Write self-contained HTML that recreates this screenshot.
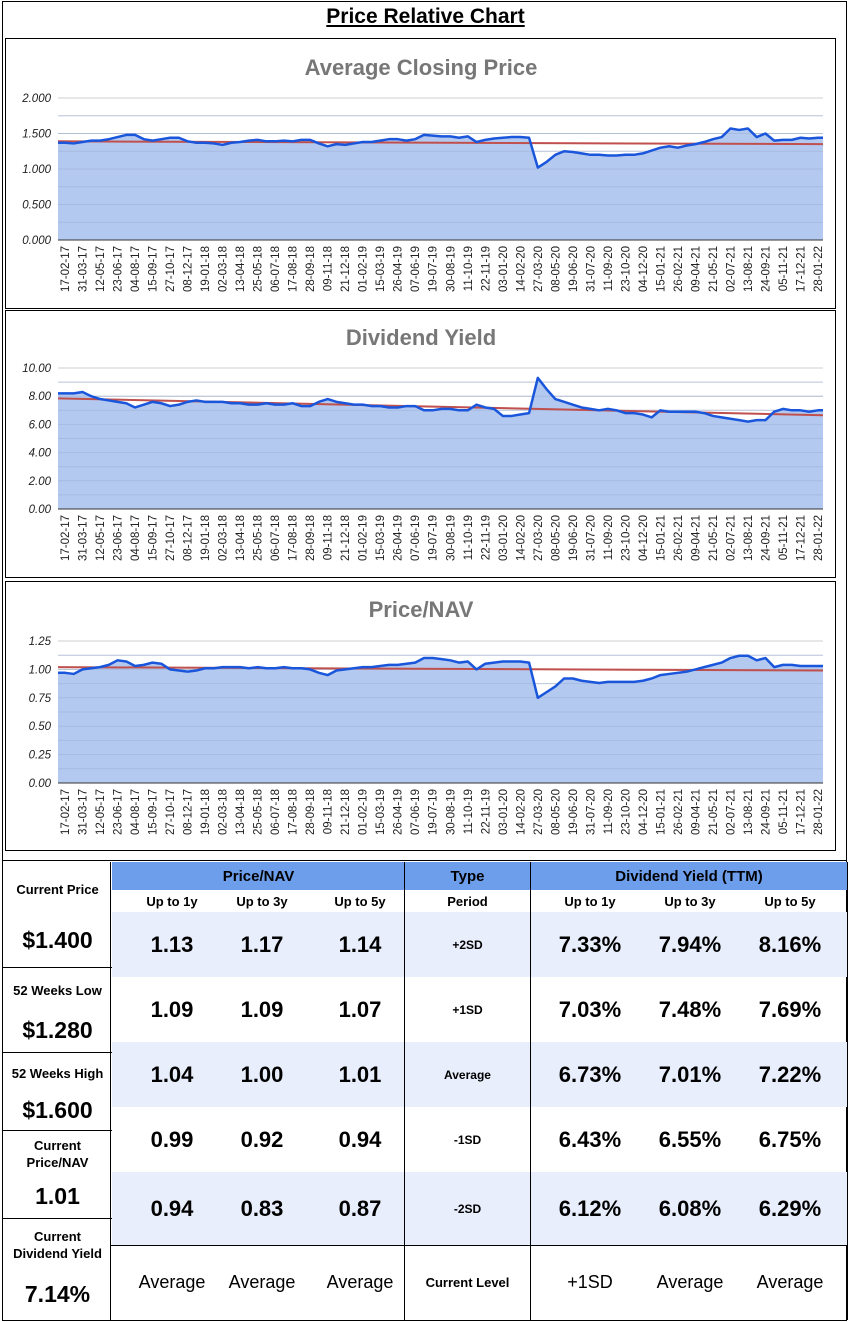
<!DOCTYPE html>
<html><head><meta charset="utf-8">
<style>
body{margin:0;width:851px;height:1322px;background:#fff;position:relative;overflow:hidden;font-family:"Liberation Sans",sans-serif;}
.abs{position:absolute;}
.frame{position:absolute;left:2px;top:1px;width:845px;height:1320px;border:1px solid #000;border-bottom:none;box-sizing:border-box;}
.title{position:absolute;left:0;width:851px;top:5px;text-align:center;font-family:"Liberation Sans Narrow","Liberation Sans",sans-serif;font-weight:bold;font-size:21px;text-decoration:underline;}
.cbox{position:absolute;left:5px;width:831px;border:1px solid #000;box-sizing:border-box;}
.cell{position:absolute;display:flex;align-items:center;justify-content:center;text-align:center;font-weight:bold;box-sizing:border-box;}
.hl{position:absolute;background:#000;}
</style></head><body>
<div class="frame"></div>
<div class="title">Price Relative Chart</div>
<div class="cbox" style="top:38px;height:271px"></div>
<div class="cbox" style="top:310px;height:268px"></div>
<div class="cbox" style="top:581px;height:270px"></div>
<svg id="charts" class="abs" style="left:0;top:0" width="851" height="860"></svg>

<div id="table"></div>

<script>
const dates=["17-02-17","31-03-17","12-05-17","23-06-17","04-08-17","15-09-17","27-10-17","08-12-17","19-01-18","02-03-18","13-04-18","25-05-18","06-07-18","17-08-18","28-09-18","09-11-18","21-12-18","01-02-19","15-03-19","26-04-19","07-06-19","19-07-19","30-08-19","11-10-19","22-11-19","03-01-20","14-02-20","27-03-20","08-05-20","19-06-20","31-07-20","11-09-20","23-10-20","04-12-20","15-01-21","26-02-21","09-04-21","21-05-21","02-07-21","13-08-21","24-09-21","05-11-21","17-12-21","28-01-22"];
const priceValues=[1.37,1.36,1.38,1.40,1.40,1.42,1.45,1.48,1.48,1.42,1.40,1.42,1.44,1.44,1.39,1.37,1.37,1.36,1.34,1.37,1.38,1.40,1.41,1.39,1.39,1.40,1.39,1.41,1.41,1.36,1.32,1.35,1.34,1.36,1.38,1.38,1.40,1.42,1.42,1.40,1.42,1.48,1.47,1.46,1.46,1.44,1.46,1.38,1.41,1.43,1.44,1.45,1.45,1.44,1.02,1.10,1.20,1.25,1.24,1.22,1.20,1.20,1.19,1.19,1.20,1.20,1.22,1.26,1.30,1.32,1.30,1.33,1.35,1.38,1.42,1.45,1.57,1.55,1.57,1.45,1.50,1.40,1.41,1.41,1.44,1.43,1.44];
const priceTrend=[1.39,1.35];
const yieldValues=[8.2,8.2,8.3,8.0,7.8,7.7,7.6,7.5,7.2,7.4,7.6,7.5,7.3,7.4,7.6,7.7,7.6,7.6,7.6,7.5,7.5,7.4,7.4,7.5,7.4,7.4,7.5,7.3,7.3,7.6,7.8,7.6,7.5,7.4,7.4,7.3,7.3,7.2,7.2,7.3,7.3,7.0,7.0,7.1,7.1,7.0,7.0,7.4,7.2,7.1,6.6,6.6,6.7,6.8,9.3,8.5,7.8,7.6,7.4,7.2,7.1,7.0,7.1,7.0,6.8,6.8,6.7,6.5,7.0,6.9,6.9,6.9,6.9,6.8,6.6,6.5,6.4,6.3,6.2,6.3,6.3,6.9,7.1,7.0,7.0,6.9,7.0];
const yieldTrend=[7.85,6.65];
const navValues=[0.97,0.96,1.00,1.01,1.02,1.04,1.08,1.07,1.03,1.04,1.06,1.05,1.00,0.99,0.98,0.99,1.01,1.01,1.02,1.02,1.02,1.01,1.02,1.01,1.01,1.02,1.01,1.01,1.00,0.97,0.95,0.99,1.00,1.01,1.02,1.02,1.03,1.04,1.04,1.05,1.06,1.10,1.10,1.09,1.08,1.06,1.07,1.00,1.05,1.06,1.07,1.07,1.07,1.06,0.75,0.80,0.85,0.92,0.92,0.90,0.89,0.88,0.89,0.89,0.89,0.89,0.90,0.92,0.95,0.96,0.97,0.98,1.00,1.02,1.04,1.06,1.10,1.12,1.12,1.08,1.10,1.02,1.04,1.04,1.03,1.03,1.03];
const navTrend=[1.02,0.99];
const priceTicks=["0.000","0.500","1.000","1.500","2.000"];
const yieldTicks=["0.00","2.00","4.00","6.00","8.00","10.00"];
const navTicks=["0.00","0.25","0.50","0.75","1.00","1.25"];

const svg=document.getElementById('charts');
const NS='http://www.w3.org/2000/svg';
function mk(tag,attrs,parent){const e=document.createElementNS(NS,tag);for(const k in attrs)e.setAttribute(k,attrs[k]);(parent||svg).appendChild(e);return e;}
const X0=58,X1=823,LX0=65,LX1=818;
function drawChart(key,title,titleY,top,bottom,ticks,values,trend){
  const ymax=parseFloat(ticks[ticks.length-1]);
  const y=v=>bottom-(v/ymax)*(bottom-top);
  const xd=i=>LX0+(LX1-LX0)*i/(values.length-1);
  const g=mk('g',{});
  
  
  const t=mk('text',{x:421,y:titleY,'text-anchor':'middle','font-size':'22','font-weight':'bold',fill:'#777'},g);
  t.textContent=title;
  
  
  const n=ticks.length-1;
  for(let i=0;i<=n*2;i++){
    const v=ymax*i/(n*2);
    const gl=mk('line',{x1:X0,x2:X1,y1:y(v),y2:y(v),stroke:i%2?'#e4e4e4':'#cfcfcf','stroke-width':1},g);
    
    
  }
  ticks.forEach((tk,i)=>{
    const v=parseFloat(tk);
    const tl=mk('text',{x:51,y:y(v)+4,'text-anchor':'end','font-size':'11.5','font-style':'italic',fill:'#222'},g);
    tl.textContent=tk;
    
    
  });
  let d='M'+X0+','+y(values[0]);
  values.forEach((v,i)=>{d+=' L'+xd(i)+','+y(v);});
  d+=' L'+X1+','+y(values[values.length-1])+' L'+X1+','+bottom+' L'+X0+','+bottom+' Z';
  const ar=mk('path',{d:d,fill:'#b4c9ef'},g);
  
  
  for(let i=1;i<n*2;i++){
    const v=ymax*i/(n*2);
    mk('line',{x1:X0,x2:X1,y1:y(v),y2:y(v),stroke:'#9fb3d8','stroke-width':1,opacity:0.6},g);
  }
  const tr=mk('line',{x1:X0,x2:X1,y1:y(trend[0]),y2:y(trend[1]),stroke:'#c0504d','stroke-width':2},g);
  
  
  let ld='M'+X0+','+y(values[0]);
  values.forEach((v,i)=>{ld+=' L'+xd(i)+','+y(v);});
  ld+=' L'+X1+','+y(values[values.length-1]);
  const ln=mk('path',{d:ld,fill:'none',stroke:'#1a56db','stroke-width':2.5,'stroke-linejoin':'round'},g);
  
  
  const ax=mk('line',{x1:X0,x2:X1,y1:bottom,y2:bottom,stroke:'#333','stroke-width':1},g);
  
  
  dates.forEach((dt,i)=>{
    const xx=LX0+(LX1-LX0)*i/(dates.length-1)+4;
    const yy=bottom+6;
    const xl=mk('text',{x:xx,y:yy,'text-anchor':'end','font-size':'11.5',fill:'#222',transform:'rotate(-90 '+xx+' '+yy+')'},g);
    xl.textContent=dt;
    
    
  });
}
drawChart('price','Average Closing Price',75,98,240,priceTicks,priceValues,priceTrend);
drawChart('yield','Dividend Yield',345,368,509,yieldTicks,yieldValues,yieldTrend);
drawChart('nav','Price/NAV',617,641,783,navTicks,navValues,navTrend);

const T=document.getElementById('table');
function cell(l,t,w,h,txt,fs,extra,name){
  const d=document.createElement('div');d.className='cell';
  d.style.cssText='left:'+l+'px;top:'+t+'px;width:'+w+'px;height:'+h+'px;font-size:'+fs+'px;'+(extra||'');
  d.innerHTML=txt;
  
  
  T.appendChild(d);return d;
}
function hl(l,t,w,h){const d=document.createElement('div');d.className='hl';d.style.cssText='left:'+l+'px;top:'+t+'px;width:'+w+'px;height:'+h+'px';T.appendChild(d);}
const rowsTop=[912,977,1042,1107,1172,1245];
cell(112,862,293,28,'Price/NAV',15,'background:#6d9eeb;','price-nav-header');
cell(405,862,125,28,'Type',15,'background:#6d9eeb;','type-header');
cell(530,862,318,28,'Dividend Yield (TTM)',15,'background:#6d9eeb;','dividend-yield-header');
[0,2,4].forEach(r=>{cell(112,rowsTop[r],736,rowsTop[r+1]-rowsTop[r],'',10,'background:#e8eefb;','row-band');});
const navCols=[172,262,360],dyCols=[590,690,790];
const subs=['Up to 1y','Up to 3y','Up to 5y'];
subs.forEach((s,i)=>{cell(navCols[i]-50,890,100,22,s,13,'','nav-subheader');cell(dyCols[i]-50,890,100,22,s,13,'','dy-subheader');});
cell(405,890,125,22,'Period',13,'','period-subheader');
const types=['+2SD','+1SD','Average','-1SD','-2SD'];
const navTbl=[['1.13','1.17','1.14'],['1.09','1.09','1.07'],['1.04','1.00','1.01'],['0.99','0.92','0.94'],['0.94','0.83','0.87']];
const dyTbl=[['7.33%','7.94%','8.16%'],['7.03%','7.48%','7.69%'],['6.73%','7.01%','7.22%'],['6.43%','6.55%','6.75%'],['6.12%','6.08%','6.29%']];
for(let r=0;r<5;r++){
  const t=rowsTop[r],h=rowsTop[r+1]-t;
  cell(405,t,125,h,types[r],12,'','type-'+r);
  for(let c=0;c<3;c++){cell(navCols[c]-50,t,100,h,navTbl[r][c],22,'','nav-value');cell(dyCols[c]-55,t,110,h,dyTbl[r][c],22,'','dy-value');}
}
const last=['Average','Average','Average'],lastDy=['+1SD','Average','Average'];
for(let c=0;c<3;c++){cell(navCols[c]-50,1245,100,75,last[c],18,'font-weight:normal;','nav-current-level');cell(dyCols[c]-55,1245,110,75,lastDy[c],18,'font-weight:normal;','dy-current-level');}
cell(405,1245,125,75,'Current Level',13,'','current-level-label');
const left=[[862,967,'Current Price','$1.400'],[967,1052,'52 Weeks Low','$1.280'],[1052,1130,'52 Weeks High','$1.600'],[1130,1218,'Current<br>Price/NAV','1.01'],[1218,1320,'Current<br>Dividend Yield','7.14%']];
left.forEach((L,i)=>{
  const h=L[1]-L[0];
  cell(5,L[0]+4,105,h*0.45,L[2],13,'line-height:17px;','left-label-'+i);
  cell(5,L[0]+h*0.5,105,h*0.5,L[3],23,'','left-value-'+i);
  hl(2,L[1],110,1);
});
hl(2,860,845,1);hl(110,862,1,458);hl(404,862,1,458);hl(530,862,1,458);hl(847,862,1,458);hl(110,1245,737,1);hl(2,1320,845,1);
</script>
</body></html>
